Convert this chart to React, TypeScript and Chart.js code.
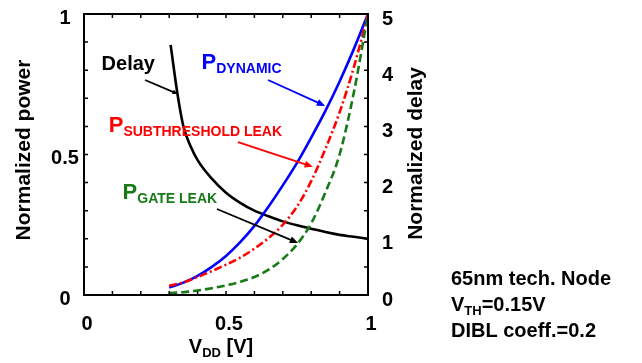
import React, { useEffect, useRef } from 'react';
import { Chart, registerables } from 'chart.js';
Chart.register(...registerables);

// ---- data ----
const vdd = [0.3, 0.35, 0.4, 0.45, 0.5, 0.55, 0.6, 0.65, 0.7, 0.75, 0.8, 0.85, 0.9, 0.95, 1.0];
const pDynamic = [0.027, 0.044, 0.068, 0.1, 0.139, 0.188, 0.246, 0.315, 0.39, 0.47, 0.56, 0.655, 0.76, 0.875, 1.0];
const pSubthreshold = [0.033, 0.045, 0.064, 0.085, 0.108, 0.133, 0.165, 0.203, 0.25, 0.315, 0.405, 0.52, 0.65, 0.81, 1.0];
const pGate = [0.007, 0.01, 0.016, 0.024, 0.034, 0.047, 0.064, 0.09, 0.128, 0.18, 0.255, 0.365, 0.5, 0.72, 1.0];
const vddDelay = [0.305, 0.33, 0.35, 0.375, 0.4, 0.45, 0.5, 0.55, 0.6, 0.65, 0.7, 0.75, 0.8, 0.85, 0.9, 0.95, 1.0];
const delay = [4.45, 3.55, 3.0, 2.65, 2.4, 2.07, 1.82, 1.64, 1.5, 1.4, 1.31, 1.24, 1.18, 1.12, 1.07, 1.035, 1.0];

const xTicks = [0, 0.5, 1];
const xTickLabels = ['0', '0.5', '1'];
const powerTicks = [0, 0.5, 1];
const powerTickLabels = ['0', '0.5', '1'];
const delayTicks = [0, 1, 2, 3, 4, 5];
const delayTickLabels = ['0', '1', '2', '3', '4', '5'];

const BLUE = '#0000ff';
const RED = '#ff0000';
const GREEN = '#167a16';
const FONT = '"Liberation Sans", Arial, sans-serif';

const toXY = (xs: number[], ys: number[]) => xs.map((x, i) => ({ x, y: ys[i] }));

function drawSub(ctx: CanvasRenderingContext2D, x: number, y: number, main: string, sub: string, mainSize: number, subSize: number, dy: number, color: string) {
  ctx.fillStyle = color;
  ctx.textAlign = 'left';
  ctx.textBaseline = 'alphabetic';
  ctx.font = `bold ${mainSize}px ${FONT}`;
  ctx.fillText(main, x, y);
  const w = ctx.measureText(main).width;
  ctx.font = `bold ${subSize}px ${FONT}`;
  ctx.fillText(sub, x + w, y + dy);
}

function arrow(ctx: CanvasRenderingContext2D, x1: number, y1: number, x2: number, y2: number, color: string, head: number) {
  ctx.strokeStyle = color;
  ctx.fillStyle = color;
  ctx.lineWidth = 1.8;
  ctx.setLineDash([]);
  const ang = Math.atan2(y2 - y1, x2 - x1);
  ctx.beginPath();
  ctx.moveTo(x1, y1);
  ctx.lineTo(x2 - Math.cos(ang) * head * 0.6, y2 - Math.sin(ang) * head * 0.6);
  ctx.stroke();
  if (head > 0) {
    ctx.beginPath();
    ctx.moveTo(x2, y2);
    ctx.lineTo(x2 - head * Math.cos(ang - 0.4), y2 - head * Math.sin(ang - 0.4));
    ctx.lineTo(x2 - head * Math.cos(ang + 0.4), y2 - head * Math.sin(ang + 0.4));
    ctx.closePath();
    ctx.fill();
  }
}

const overlay = {
  id: 'overlay',
  afterDatasetsDraw(chart: any) {
    const { ctx, chartArea: a, scales } = chart;
    const sx = scales.x, sy = scales.y, sy2 = scales.y2;
    const X = (v: number) => sx.getPixelForValue(v);
    const Y = (v: number) => sy.getPixelForValue(v);
    ctx.save();
    // frame
    ctx.strokeStyle = '#000';
    ctx.lineWidth = 2;
    ctx.setLineDash([]);
    ctx.strokeRect(a.left, a.top, a.right - a.left, a.bottom - a.top);
    // inward ticks
    ctx.lineWidth = 1.5;
    const tl = 4;
    ctx.beginPath();
    for (let i = 1; i < 10; i++) {
      const v = i / 10;
      const px = X(v);
      ctx.moveTo(px, a.bottom); ctx.lineTo(px, a.bottom - tl);
      ctx.moveTo(px, a.top); ctx.lineTo(px, a.top + tl);
      const py = Y(v);
      ctx.moveTo(a.left, py); ctx.lineTo(a.left + tl, py);
      const py2 = sy2.getPixelForValue(v * 5);
      ctx.moveTo(a.right, py2); ctx.lineTo(a.right - tl, py2);
    }
    ctx.stroke();

    // tick labels
    ctx.fillStyle = '#000';
    ctx.font = `bold 20px ${FONT}`;
    ctx.textBaseline = 'middle';
    ctx.textAlign = 'center';
    xTicks.forEach((v, i) => ctx.fillText(xTickLabels[i], X(v) + 3, 324));
    ctx.textAlign = 'center';
    powerTicks.forEach((v, i) => ctx.fillText(powerTickLabels[i], 65, Y(v) + 4));
    ctx.textAlign = 'left';
    delayTicks.forEach((v, i) => ctx.fillText(delayTickLabels[i], 382, sy2.getPixelForValue(v) + 5));

    // axis titles
    ctx.textBaseline = 'alphabetic';
    ctx.font = `bold 21px ${FONT}`;
    ctx.save();
    ctx.translate(30, 150);
    ctx.rotate(-Math.PI / 2);
    ctx.textAlign = 'center';
    ctx.fillText('Normalized power', 0, 0);
    ctx.restore();
    ctx.save();
    ctx.translate(421.5, 153.5);
    ctx.rotate(-Math.PI / 2);
    ctx.textAlign = 'center';
    ctx.fillText('Normalized delay', 0, 0);
    ctx.restore();
    // x title with subscript
    ctx.font = `bold 20px ${FONT}`;
    const w1 = ctx.measureText('V').width;
    ctx.font = `bold 13px ${FONT}`;
    const w2 = ctx.measureText('DD').width;
    ctx.font = `bold 20px ${FONT}`;
    const w3 = ctx.measureText(' [V]').width;
    const xStart = 221 - (w1 + w2 + w3) / 2;
    ctx.textAlign = 'left';
    ctx.fillText('V', xStart, 353);
    ctx.font = `bold 13px ${FONT}`;
    ctx.fillText('DD', xStart + w1, 357);
    ctx.font = `bold 20px ${FONT}`;
    ctx.fillText(' [V]', xStart + w1 + w2, 353);

    // annotations
    ctx.font = `bold 20px ${FONT}`;
    ctx.fillStyle = '#000';
    ctx.fillText('Delay', X(0.062), Y(0.801));
    arrow(ctx, X(0.215), Y(0.765), X(0.331), Y(0.715), '#000', 6);
    drawSub(ctx, X(0.414), Y(0.804), 'P', 'DYNAMIC', 22, 14, 4, BLUE);
    arrow(ctx, X(0.648), Y(0.765), X(0.849), Y(0.673), BLUE, 9);
    drawSub(ctx, X(0.087), Y(0.58), 'P', 'SUBTHRESHOLD LEAK', 22, 14, 4, RED);
    arrow(ctx, X(0.542), Y(0.544), X(0.806), Y(0.456), RED, 9);
    drawSub(ctx, X(0.136), Y(0.343), 'P', 'GATE LEAK', 22, 14, 4, GREEN);
    arrow(ctx, X(0.468), Y(0.306), X(0.754), Y(0.185), '#000', 9);

    // notes
    ctx.fillStyle = '#000';
    ctx.font = `bold 20px ${FONT}`;
    ctx.fillText('65nm tech. Node', 451, 285);
    drawSub(ctx, 451, 311, 'V', 'TH', 20, 13, 4, '#000');
    ctx.font = `bold 13px ${FONT}`;
    const wth = ctx.measureText('TH').width;
    ctx.font = `bold 20px ${FONT}`;
    const wv = ctx.measureText('V').width;
    ctx.fillText('=0.15V', 451 + wv + wth, 311);
    ctx.fillText('DIBL coeff.=0.2', 451, 337);
    ctx.restore();
  },
};

export default function App() {
  const ref = useRef<HTMLCanvasElement | null>(null);
  useEffect(() => {
    if (!ref.current) return;
    const chart = new Chart(ref.current, {
      type: 'line',
      data: {
        datasets: [
          { label: 'P gate', data: toXY(vdd, pGate), borderColor: GREEN, borderWidth: 2.6, borderDash: [8, 4], pointRadius: 0, cubicInterpolationMode: 'monotone', yAxisID: 'y' },
          { label: 'P subthreshold', data: toXY(vdd, pSubthreshold), borderColor: RED, borderWidth: 2.6, borderDash: [8, 3, 2, 3], pointRadius: 0, cubicInterpolationMode: 'monotone', yAxisID: 'y' },
          { label: 'P dynamic', data: toXY(vdd, pDynamic), borderColor: BLUE, borderWidth: 2.6, pointRadius: 0, cubicInterpolationMode: 'monotone', yAxisID: 'y' },
          { label: 'Delay', data: toXY(vddDelay, delay), borderColor: '#000', borderWidth: 2.6, pointRadius: 0, cubicInterpolationMode: 'monotone', yAxisID: 'y2' },
        ],
      } as any,
      options: {
        animation: false,
        responsive: false,
        devicePixelRatio: 1,
        layout: { padding: { left: 84, right: 274, top: 14, bottom: 68 } },
        plugins: { legend: { display: false }, tooltip: { enabled: false } },
        scales: {
          x: { type: 'linear', min: 0, max: 1, display: false },
          y: { type: 'linear', min: 0, max: 1, display: false },
          y2: { type: 'linear', min: 0, max: 5, display: false, position: 'right' },
        },
      } as any,
      plugins: [overlay],
    });
    return () => chart.destroy();
  }, []);
  return (
    <div style={{ position: 'fixed', left: 0, top: 0, width: 642, height: 363, background: '#fff' }}>
      <canvas ref={ref} width={642} height={363} style={{ width: 642, height: 363, display: 'block' }} />
    </div>
  );
}
